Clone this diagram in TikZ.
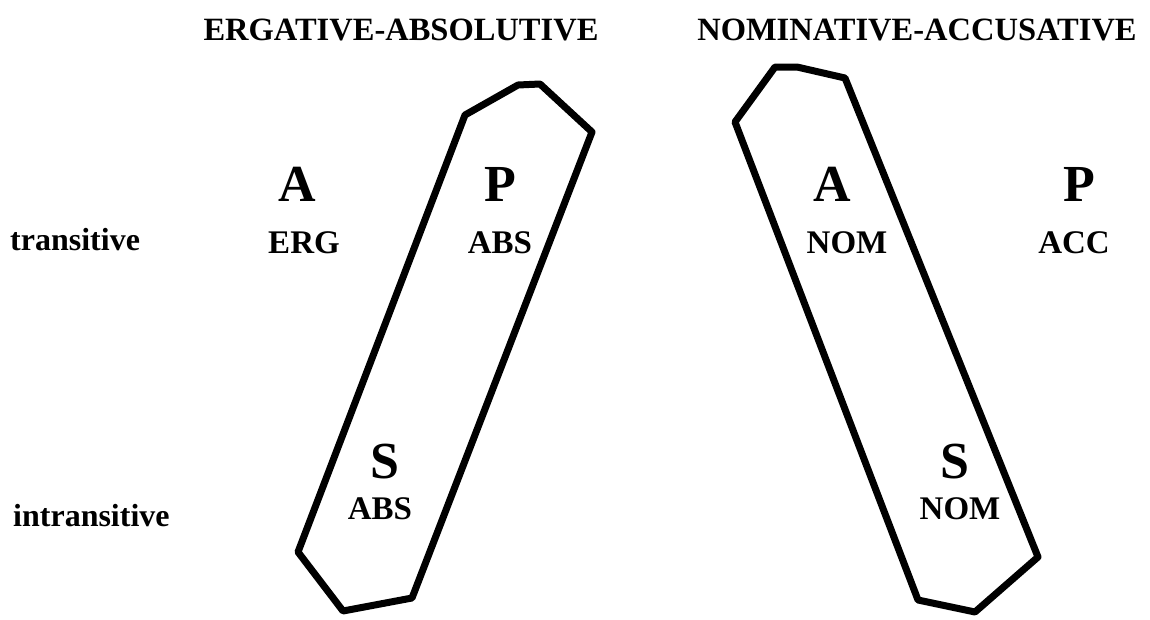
\documentclass[tikz,border=0pt]{standalone}
\usepackage{fontspec}
\setmainfont{Liberation Serif}
\usepackage{tikz}
\usetikzlibrary{positioning}
\tikzset{
  alignment diagram/.style={
    x=1pt,
    y=-1pt,
    line cap=round,
    line join=round
  },
  headtext/.style={
    font=\fontsize{32.5}{39}\selectfont\bfseries,
    inner sep=0pt,
    anchor=base
  },
  rowtext/.style={
    font=\fontsize{32}{38}\selectfont\bfseries,
    inner sep=0pt,
    anchor=base west
  },
  roletext/.style={
    font=\fontsize{52}{60}\selectfont\bfseries,
    inner sep=0pt,
    anchor=base
  },
  casetext/.style={
    font=\fontsize{33}{40}\selectfont\bfseries,
    inner sep=0pt,
    anchor=base
  },
  grouploop/.style={
    draw=black,
    line width=7pt
  }
}

\begin{document}
\begin{tikzpicture}[alignment diagram]
\useasboundingbox (0,0) rectangle (1150,619);

% headings
\node[headtext] (ergtitle) at (401,40) {ERGATIVE-ABSOLUTIVE};
\node[headtext] (nomtitle) at (917,40) {NOMINATIVE-ACCUSATIVE};

% row labels
\node[rowtext] (trans) at (10,250) {transitive};
\node[rowtext] (intrans) at (13,526) {intransitive};

% ergative side
\node[roletext] (ergA) at (297,201) {A};
\node[casetext] (ergcase) at (304,253) {ERG};
\node[roletext] (ergP) at (500,201) {P};
\node[casetext] (ergPabs) at (500,253) {ABS};
\node[roletext] (ergS) at (385,478) {S};
\node[casetext] (ergSabs) at (380,519) {ABS};

% nominative side
\node[roletext] (nomA) at (832,201) {A};
\node[casetext] (nomAnom) at (847,253) {NOM};
\node[roletext] (nomP) at (1079,201) {P};
\node[casetext] (acccase) at (1074,253) {ACC};
\node[roletext] (nomS) at (955,478) {S};
\node[casetext] (nomSnom) at (960,519) {NOM};

% groupings
\draw[grouploop] (465,115) -- (518,85) -- (540,84) -- (592,132) -- (412,598) -- (343,611) -- (298,552) -- cycle;
\draw[grouploop] (735,122) -- (775,67) -- (797,67) -- (845,78) -- (1038,557) -- (975,612) -- (918,600) -- cycle;
\end{tikzpicture}
\end{document}
